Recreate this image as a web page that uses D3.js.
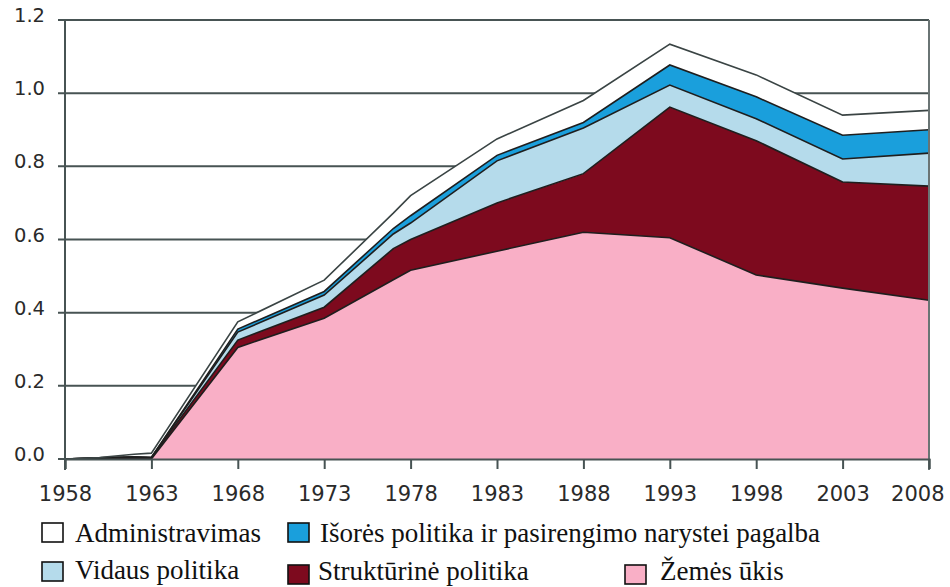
<!DOCTYPE html>
<html>
<head>
<meta charset="utf-8">
<script src="https://cdn.jsdelivr.net/npm/d3@7"></script>
<style>
  body { margin: 0; background: #fff; }
  svg { display: block; }
</style>
</head>
<body>
<div id="chart"></div>
<script>

// values (share of GDP, stacked bottom -> top)
const years = [1958, 1960, 1962, 1963, 1968, 1973, 1977, 1978, 1983, 1988, 1993, 1998, 2003, 2008];
const zemesUkis       = [0, 0,     0,     0,     0.305, 0.385, 0.490, 0.516, 0.568, 0.620, 0.605, 0.503, 0.467, 0.434];
const strukturine     = [0, 0.003, 0.005, 0.004, 0.020, 0.030, 0.085, 0.084, 0.132, 0.160, 0.357, 0.367, 0.290, 0.312];
const vidausPolitika  = [0, 0,     0,     0,     0.022, 0.033, 0.040, 0.045, 0.115, 0.125, 0.060, 0.060, 0.063, 0.090];
const isoresPolitika  = [0, 0,     0,     0,     0.008, 0.010, 0.015, 0.020, 0.015, 0.015, 0.055, 0.060, 0.065, 0.064];
const administravimas = [0, 0.001, 0.008, 0.012, 0.020, 0.031, 0.042, 0.055, 0.045, 0.060, 0.057, 0.060, 0.055, 0.053];

const seriesKeys = ["zemes", "strukt", "vidaus", "isores", "admin"];
const seriesLabels = {
  admin: "Administravimas",
  isores: "Išorės politika ir pasirengimo narystei pagalba",
  vidaus: "Vidaus politika",
  strukt: "Struktūrinė politika",
  zemes: "Žemės ūkis"
};
const xTicks = [1958, 1963, 1968, 1973, 1978, 1983, 1988, 1993, 1998, 2003, 2008];
const yTicks = [0, 0.2, 0.4, 0.6, 0.8, 1.0, 1.2];

const width = 950;
const height = 587;

const color = d3.scaleOrdinal()
  .domain(seriesKeys)
  .range(["#f9afc6", "#7d0a1e", "#b5dbeb", "#1a9fdc", "#ffffff"]);

const table = years.map((y, i) => ({
  year: y,
  zemes: zemesUkis[i],
  strukt: strukturine[i],
  vidaus: vidausPolitika[i],
  isores: isoresPolitika[i],
  admin: administravimas[i]
}));

const stacked = d3.stack().keys(seriesKeys)(table);

const x = d3.scaleLinear().domain([1958, 2008]).range([65, 929]);
const y = d3.scaleLinear().domain([0, 1.2]).range([459, 20]);

const svg = d3.select("div#chart")
  .append("svg")
  .attr("width", width)
  .attr("height", height)
  .attr("viewBox", [0, 0, width, height]);

// gridlines (the areas sit on top of them)
svg.append("g")
  .selectAll("line")
  .data(yTicks)
  .join("line")
  .attr("x1", 58)
  .attr("x2", x(2008))
  .attr("y1", d => y(d))
  .attr("y2", d => y(d))
  .attr("stroke", "#475353")
  .attr("stroke-width", 2);

const area = d3.area()
  .x(d => x(d.data.year))
  .y0(d => y(d[0]))
  .y1(d => y(d[1]));

const topLine = d3.line()
  .x(d => x(d.data.year))
  .y(d => y(d[1]));

svg.append("g")
  .selectAll("path")
  .data(stacked)
  .join("path")
  .attr("fill", d => color(d.key))
  .attr("d", area);

svg.append("g")
  .selectAll("path")
  .data(stacked)
  .join("path")
  .attr("fill", "none")
  .attr("stroke", d => d.key == "admin" ? "#3a4444" : "#1e1e1e")
  .attr("stroke-width", 1.6)
  .attr("d", topLine);

// frame: left axis, right border, bottom axis
svg.append("line")
  .attr("x1", x(1958)).attr("x2", x(1958))
  .attr("y1", y(1.2)).attr("y2", y(0) + 11)
  .attr("stroke", "#475353").attr("stroke-width", 2);

svg.append("line")
  .attr("x1", x(2008)).attr("x2", x(2008))
  .attr("y1", y(1.2)).attr("y2", y(0) + 11)
  .attr("stroke", "#6a7474").attr("stroke-width", 2);

const xAxis = svg.append("g")
  .attr("transform", `translate(0,${y(0)})`)
  .call(d3.axisBottom(x).tickValues(xTicks).tickFormat(d3.format("d")).tickSize(10).tickPadding(17));

xAxis.select(".domain").attr("stroke", "#475353").attr("stroke-width", 2);
xAxis.selectAll(".tick line").attr("stroke", "#475353").attr("stroke-width", 2);
xAxis.selectAll("text")
  .attr("fill", "#2a2a2a")
  .style("font", "21px 'DejaVu Sans', sans-serif");
// last label is pulled inside the window, like in the original
xAxis.selectAll(".tick")
  .filter(d => d == 2008)
  .select("text")
  .attr("text-anchor", "end")
  .attr("x", 15);

// y tick labels
svg.append("g")
  .selectAll("text")
  .data(yTicks)
  .join("text")
  .attr("x", 45)
  .attr("y", d => y(d) + 2)
  .attr("text-anchor", "end")
  .attr("fill", "#2a2a2a")
  .style("font", "19.5px 'DejaVu Sans', sans-serif")
  .text(d => d3.format(".1f")(d));

// legend
const legendItems = [
  {key: "admin",  bx: 42,  by: 523, tx: 75,  ty: 542},
  {key: "isores", bx: 288, by: 523, tx: 320, ty: 542},
  {key: "vidaus", bx: 42,  by: 562, tx: 75,  ty: 579},
  {key: "strukt", bx: 288, by: 565, tx: 318, ty: 580},
  {key: "zemes",  bx: 625, by: 565, tx: 660, ty: 580}
];

const legend = svg.append("g")
  .selectAll("g")
  .data(legendItems)
  .join("g");

legend.append("rect")
  .attr("x", d => d.bx)
  .attr("y", d => d.by)
  .attr("width", 21)
  .attr("height", 19)
  .attr("fill", d => color(d.key))
  .attr("stroke", "#111")
  .attr("stroke-width", 1.6);

legend.append("text")
  .attr("x", d => d.tx)
  .attr("y", d => d.ty)
  .attr("fill", "#111")
  .style("font", "27px 'Liberation Serif', 'Times New Roman', serif")
  .text(d => seriesLabels[d.key]);

</script>
</body>
</html>
